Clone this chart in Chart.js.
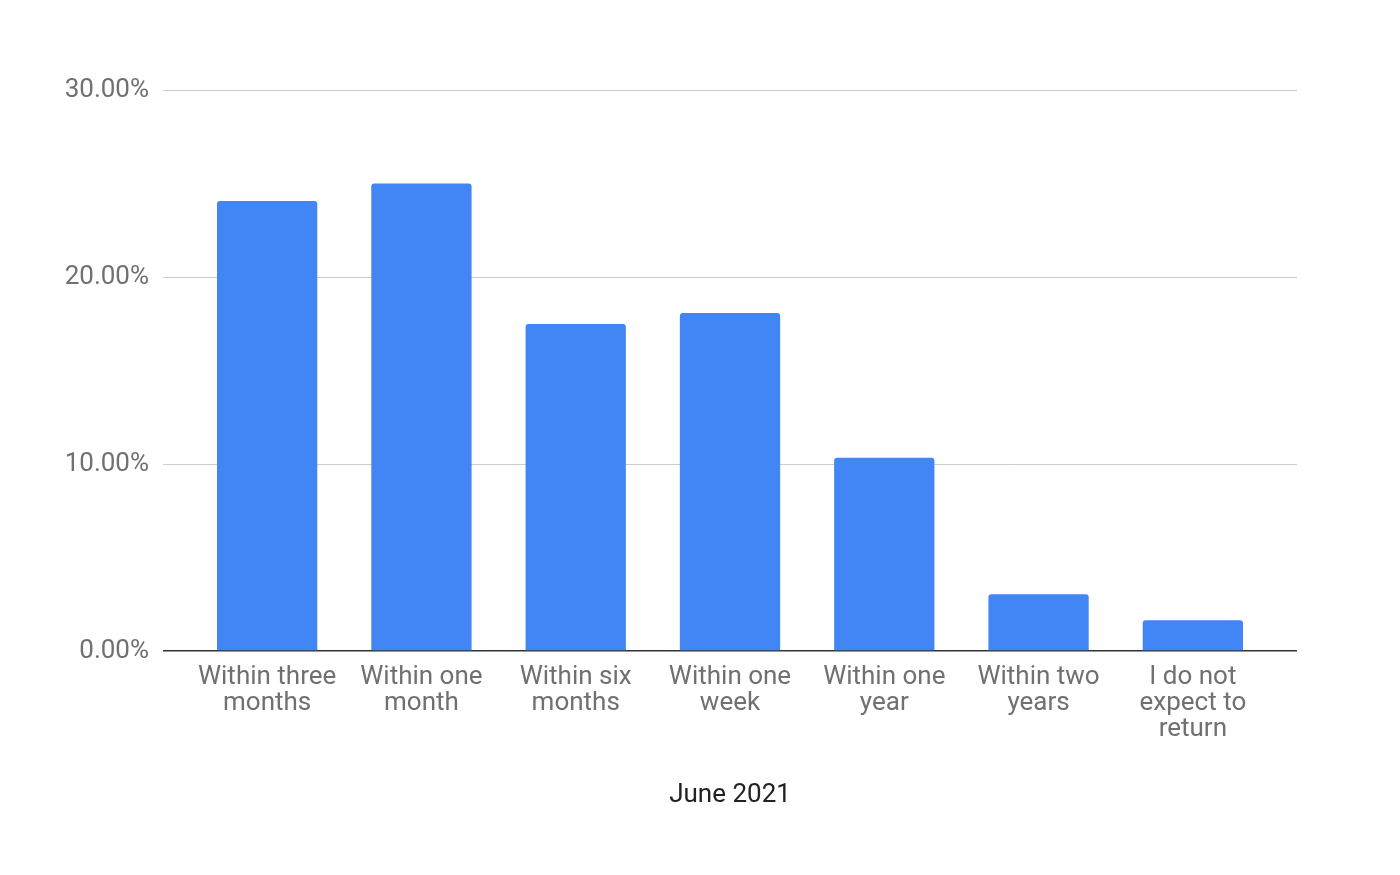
<!DOCTYPE html>
<html>
<head>
<meta charset="utf-8">
<script src="https://cdn.jsdelivr.net/npm/chart.js@4.4.0/dist/chart.umd.min.js"></script>
<style>
  html, body { margin: 0; padding: 0; background: #fff; }
  #wrap { width: 1400px; height: 875px; }
</style>
</head>
<body>
<div id="wrap"><canvas id="grafico" width="1400" height="875"></canvas></div>
<script>
        // ============ DATOS ============
        const categorias = [
            ['Within three', 'months'],
            ['Within one', 'month'],
            ['Within six', 'months'],
            ['Within one', 'week'],
            ['Within one', 'year'],
            ['Within two', 'years'],
            ['I do not', 'expect to', 'return']
        ];
        const valores = [24.07, 25.0, 17.48, 18.07, 10.34, 3.04, 1.65];
        const ticksY = [0, 10, 20, 30];
        const tituloX = 'June 2021';

        // posiciones de categoria (0..6) para el eje x lineal
        const puntos = valores.map((v, i) => ({ x: i, y: v }));

        // ============ GRAFICO ============
        const ctx = document.getElementById('grafico').getContext('2d');
        const chart = new Chart(ctx, {
            type: 'bar',
            data: {
                datasets: [{
                    data: puntos,
                    backgroundColor: '#4285F4',
                    borderRadius: { topLeft: 3, topRight: 3 },
                    borderSkipped: 'start',
                    barPercentage: 0.65,
                    categoryPercentage: 1
                }]
            },
            options: {
                responsive: false,
                animation: false,
                devicePixelRatio: 1,
                layout: { padding: { top: 90, right: 103, bottom: 0, left: 0 } },
                plugins: {
                    legend: { display: false },
                    tooltip: { enabled: false }
                },
                scales: {
                    x: {
                        type: 'linear',
                        offset: false,
                        min: -0.675,
                        max: 6.675,
                        afterBuildTicks: function(scale) {
                            scale.ticks = categorias.map((c, i) => ({ value: i }));
                        },
                        grid: { display: false, drawTicks: false },
                        border: { display: false },
                        ticks: {
                            color: '#707070',
                            font: { family: 'Roboto', size: 26, lineHeight: 1.0 },
                            padding: 13,
                            maxRotation: 0,
                            autoSkip: false,
                            callback: v => categorias[v]
                        },
                        title: {
                            display: true,
                            text: tituloX,
                            color: '#222222',
                            font: { family: 'Roboto', size: 26 },
                            padding: { top: 0, bottom: 64 }
                        },
                        afterFit: function(scale) { scale.height = 224; }
                    },
                    y: {
                        min: 0,
                        max: 30,
                        afterBuildTicks: function(scale) {
                            scale.ticks = ticksY.map(v => ({ value: v }));
                        },
                        grid: {
                            drawTicks: false,
                            color: c => c.tick && c.tick.value === 0 ? '#333333' : '#cccccc',
                            lineWidth: c => c.tick && c.tick.value === 0 ? 1.5 : 1
                        },
                        border: { display: false },
                        ticks: {
                            color: '#707070',
                            font: { family: 'Roboto', size: 26 },
                            padding: 14,
                            callback: v => v.toFixed(2) + '%'
                        },
                        afterFit: function(scale) { scale.width = 163; }
                    }
                }
            }
        });
</script>
</body>
</html>
